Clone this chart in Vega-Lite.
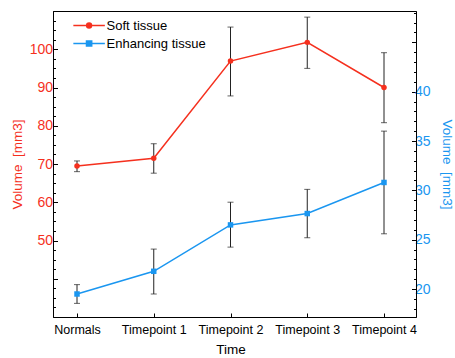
{
  "$schema": "https://vega.github.io/schema/vega-lite/v6.json",
  "width": 363,
  "height": 306,
  "autosize": {"type": "none"},
  "padding": {"left": 53, "top": 11, "right": 39, "bottom": 41},
  "config": {
    "font": "Liberation Sans",
    "view": {"stroke": "#000000", "strokeWidth": 1},
    "axis": {"domainColor": "#000000", "tickColor": "#000000", "grid": false, "titleFontWeight": "normal", "labelFontSize": 13, "titleFontSize": 13.5, "labelOverlap": false, "labelFlush": false},
    "legend": {"padding": 0}
  },
  "data": {
    "values": [
      {"series": "Soft tissue", "time": "Normals", "value": 69.5, "lo": 68.0, "hi": 70.8},
      {"series": "Soft tissue", "time": "Timepoint 1", "value": 71.5, "lo": 67.6, "hi": 75.3},
      {"series": "Soft tissue", "time": "Timepoint 2", "value": 96.9, "lo": 87.8, "hi": 105.8},
      {"series": "Soft tissue", "time": "Timepoint 3", "value": 101.8, "lo": 95.0, "hi": 108.4},
      {"series": "Soft tissue", "time": "Timepoint 4", "value": 90.0, "lo": 80.8, "hi": 99.1},
      {"series": "Enhancing tissue", "time": "Normals", "value": 19.5, "lo": 18.55, "hi": 20.45},
      {"series": "Enhancing tissue", "time": "Timepoint 1", "value": 21.8, "lo": 19.5, "hi": 24.05},
      {"series": "Enhancing tissue", "time": "Timepoint 2", "value": 26.5, "lo": 24.25, "hi": 28.8},
      {"series": "Enhancing tissue", "time": "Timepoint 3", "value": 27.65, "lo": 25.2, "hi": 30.1},
      {"series": "Enhancing tissue", "time": "Timepoint 4", "value": 30.8, "lo": 25.6, "hi": 36.0}
    ]
  },
  "encoding": {
    "x": {
      "field": "time", "type": "nominal",
      "sort": ["Normals", "Timepoint 1", "Timepoint 2", "Timepoint 3", "Timepoint 4"],
      "scale": {"type": "point", "range": [24, 331], "padding": 0},
      "title": "Time",
      "axis": {"labelAngle": 0, "tickSize": -4, "labelPadding": 10, "labelFontSize": 12.5, "titlePadding": 7, "labelColor": "#000000", "titleColor": "#000000", "labelOverlap": false}
    }
  },
  "layer": [
    {
      "transform": [{"filter": "datum.series === 'Soft tissue'"}],
      "layer": [
        {
          "mark": {"type": "rule", "color": "#222222", "strokeWidth": 1},
          "encoding": {
            "y": {"field": "lo", "type": "quantitative", "scale": {"domain": [30, 110], "nice": false, "zero": false}, "title": "Volume\u00a0 [mm3]"},
            "y2": {"field": "hi"}
          }
        },
        {
          "mark": {"type": "tick", "color": "#222222", "thickness": 1, "size": 6},
          "encoding": {"y": {"field": "lo", "type": "quantitative", "scale": {"domain": [30, 110], "nice": false, "zero": false}, "title": "Volume\u00a0 [mm3]"}}
        },
        {
          "mark": {"type": "tick", "color": "#222222", "thickness": 1, "size": 6},
          "encoding": {"y": {"field": "hi", "type": "quantitative", "scale": {"domain": [30, 110], "nice": false, "zero": false}, "title": "Volume\u00a0 [mm3]"}}
        },
        {
          "mark": {"type": "line", "strokeWidth": 1.5},
          "encoding": {
            "y": {
              "field": "value", "type": "quantitative",
              "scale": {"domain": [30, 110], "nice": false, "zero": false},
              "title": "Volume\u00a0 [mm3]",
              "axis": {
                "orient": "left",
                "values": [30, 32.5, 35, 37.5, 40, 42.5, 45, 47.5, 50, 52.5, 55, 57.5, 60, 62.5, 65, 67.5, 70, 72.5, 75, 77.5, 80, 82.5, 85, 87.5, 90, 92.5, 95, 97.5, 100, 102.5, 105, 107.5, 110],
                "tickCount": 200,
                "format": "d",
                "labelExpr": "(datum.value % 10 === 0 && datum.value >= 50 && datum.value <= 100) ? datum.label : ''",
                "labelOverlap": false,
                "tickSize": {"condition": {"test": "datum.value % 10 === 0", "value": -4.5}, "value": -2.5},
                "labelPadding": 5,
                "labelColor": "#f5301e",
                "titleColor": "#f5301e",
                "titlePadding": 5,
                "labelFontSize": 14
              }
            },
            "color": {"field": "series", "type": "nominal", "scale": {"domain": ["Soft tissue"], "range": ["#f5301e"]}}
          }
        },
        {
          "mark": {"type": "circle", "size": 30, "opacity": 1},
          "encoding": {
            "y": {"field": "value", "type": "quantitative", "scale": {"domain": [30, 110], "nice": false, "zero": false}, "title": "Volume\u00a0 [mm3]"},
            "color": {
              "field": "series", "type": "nominal",
              "scale": {"domain": ["Soft tissue"], "range": ["#f5301e"]},
              "legend": {
                "title": null,
                "orient": "none",
                "legendX": 29.6,
                "legendY": 8,
                "symbolType": "M-4,0H4M0.62,0A0.62,0.62,0,1,1,-0.62,0A0.62,0.62,0,1,1,0.62,0Z",
                "symbolSize": 62,
                "symbolStrokeWidth": 1.5,
                "symbolOpacity": 1,
                "labelOffset": 11,
                "labelFontSize": 13,
                "labelColor": "#000000"
              }
            }
          }
        }
      ]
    },
    {
      "transform": [{"filter": "datum.series === 'Enhancing tissue'"}],
      "layer": [
        {
          "mark": {"type": "rule", "color": "#222222", "strokeWidth": 1},
          "encoding": {
            "y": {"field": "lo", "type": "quantitative", "scale": {"domain": [17.17, 48.17], "nice": false, "zero": false}, "title": "Volume\u00a0 [mm3]"},
            "y2": {"field": "hi"}
          }
        },
        {
          "mark": {"type": "tick", "color": "#222222", "thickness": 1, "size": 6},
          "encoding": {"y": {"field": "lo", "type": "quantitative", "scale": {"domain": [17.17, 48.17], "nice": false, "zero": false}, "title": "Volume\u00a0 [mm3]"}}
        },
        {
          "mark": {"type": "tick", "color": "#222222", "thickness": 1, "size": 6},
          "encoding": {"y": {"field": "hi", "type": "quantitative", "scale": {"domain": [17.17, 48.17], "nice": false, "zero": false}, "title": "Volume\u00a0 [mm3]"}}
        },
        {
          "mark": {"type": "line", "strokeWidth": 1.5},
          "encoding": {
            "y": {
              "field": "value", "type": "quantitative",
              "scale": {"domain": [17.17, 48.17], "nice": false, "zero": false},
              "title": "Volume\u00a0 [mm3]",
              "axis": {
                "orient": "right",
                "values": [18, 19, 20, 21, 22, 23, 24, 25, 26, 27, 28, 29, 30, 31, 32, 33, 34, 35, 36, 37, 38, 39, 40, 41, 42, 43, 44, 45, 46, 47, 48],
                "tickCount": 200,
                "format": "d",
                "labelExpr": "(datum.value % 5 === 0 && datum.value >= 20 && datum.value <= 40) ? datum.label : ''",
                "labelOverlap": false,
                "tickSize": {"condition": {"test": "datum.value % 5 === 0", "value": -4.5}, "value": -2.5},
                "labelPadding": 3,
                "labelColor": "#1a96f0",
                "titleColor": "#1a96f0",
                "titlePadding": 9,
                "labelFontSize": 14
              }
            },
            "color": {"field": "series", "type": "nominal", "scale": {"domain": ["Enhancing tissue"], "range": ["#1a96f0"]}}
          }
        },
        {
          "mark": {"type": "square", "size": 30, "opacity": 1},
          "encoding": {
            "y": {"field": "value", "type": "quantitative", "scale": {"domain": [17.17, 48.17], "nice": false, "zero": false}, "title": "Volume\u00a0 [mm3]"},
            "color": {
              "field": "series", "type": "nominal",
              "scale": {"domain": ["Enhancing tissue"], "range": ["#1a96f0"]},
              "legend": {
                "title": null,
                "orient": "none",
                "legendX": 29.6,
                "legendY": 26,
                "symbolType": "M-4,0H4M-0.66,-0.66H0.66V0.66H-0.66Z",
                "symbolSize": 62,
                "symbolStrokeWidth": 1.5,
                "symbolOpacity": 1,
                "labelOffset": 11,
                "labelFontSize": 13,
                "labelColor": "#000000"
              }
            }
          }
        }
      ]
    }
  ],
  "resolve": {"scale": {"y": "independent", "color": "independent"}}
}
